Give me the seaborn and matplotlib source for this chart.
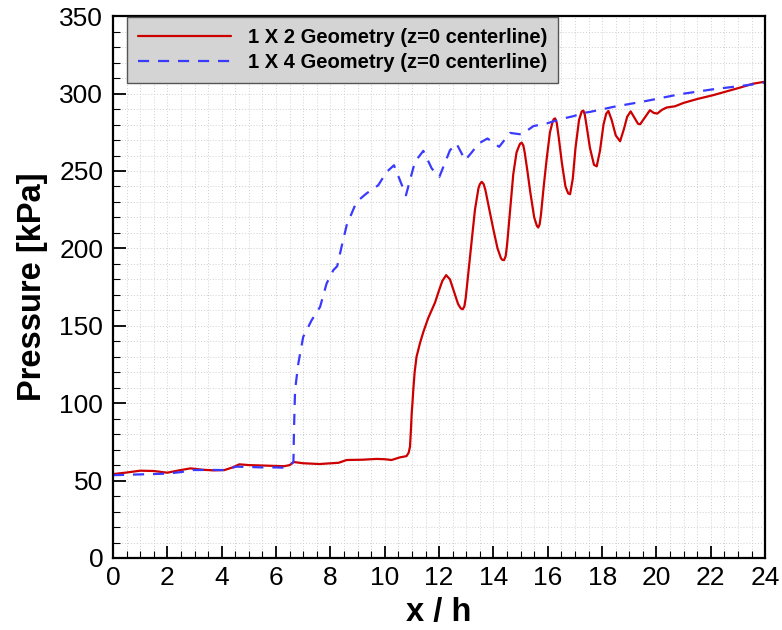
import matplotlib
matplotlib.use("Agg")
import matplotlib.pyplot as plt
import seaborn as sns
import pandas as pd
from matplotlib.ticker import MultipleLocator

# ---- data ----
red_x = [0.0, 0.5, 1.0, 1.5, 2.0, 2.4, 2.85, 3.3, 3.7, 4.1, 4.4, 4.65, 5.0, 5.4, 5.9,
         6.3, 6.5, 6.65, 7.0, 7.6, 8.3, 8.6, 9.2, 9.7, 10.0, 10.25, 10.56, 10.8, 10.88,
         10.93, 10.97, 10.99, 11.02, 11.05, 11.1, 11.17, 11.3, 11.42, 11.6, 11.85, 12.0,
         12.12, 12.26, 12.4, 12.55, 12.7, 12.8, 12.87, 12.93, 12.98, 13.08, 13.2, 13.32, 13.45,
         13.5, 13.57, 13.64, 13.7, 13.85, 14.0, 14.15, 14.28, 14.33, 14.39, 14.45, 14.5, 14.6,
         14.73, 14.85, 14.95, 14.98, 15.04, 15.1, 15.15, 15.25, 15.35, 15.5, 15.6, 15.65, 15.7,
         15.75, 15.85, 15.96, 16.08, 16.18, 16.22, 16.27, 16.33, 16.4, 16.52, 16.65, 16.75,
         16.82, 16.92, 17.02, 17.15, 17.25, 17.31, 17.36, 17.42, 17.55, 17.7, 17.8, 17.92,
         18.05, 18.15, 18.23, 18.35, 18.5, 18.66, 18.8, 18.92, 19.05, 19.2, 19.32, 19.4,
         19.55, 19.76, 19.9, 20.03, 20.2, 20.37, 20.68, 21.0, 21.5, 22.09, 22.5, 23.0, 23.56,
         23.93, 24.0]
red_y = [54.2, 55.2, 56.4, 56.2, 55.1, 56.5, 57.9, 57.0, 56.6, 56.8, 58.5, 60.5, 60.0, 59.8, 59.6,
         59.3, 60.0, 62.0, 61.2, 60.7, 61.5, 63.3, 63.5, 64.0, 63.8, 63.3, 65.0, 65.8, 68.0,
         72.0, 85.0, 93.0, 100.0, 108.5, 120.0, 130.0, 139.0, 146.0, 155.0, 165.0, 173.0,
         179.0, 182.7, 180.0, 172.0, 164.0, 161.2, 160.7, 162.5, 168.0, 185.0, 205.0, 225.0, 239.0,
         241.5, 243.0, 241.5, 238.0, 225.0, 212.0, 200.0, 193.5, 192.6, 192.4, 195.0, 202.0, 222.0,
         248.0, 262.0, 266.5, 267.6, 268.3, 266.5, 262.0, 250.0, 237.0, 220.0, 214.5, 213.5, 215.5,
         222.0, 240.0, 258.0, 275.0, 282.0, 283.5, 284.0, 281.0, 272.0, 255.0, 240.0, 235.5,
         235.0, 245.0, 265.0, 283.0, 288.5, 289.0, 286.5, 280.0, 265.0, 254.0, 253.0, 263.0,
         280.0, 287.0, 288.8, 283.0, 273.0, 269.2, 277.0, 285.0, 288.5, 284.0, 280.5, 280.2,
         284.0, 289.3, 287.5, 287.1, 289.5, 291.0, 291.8, 294.0, 296.5, 299.0, 301.0, 303.5, 306.4,
         307.5, 307.2]

blue_x = [0.0, 1.0, 2.0, 2.5, 2.95, 3.5, 4.06, 4.55, 5.0, 5.5, 6.0, 6.33, 6.57, 6.64, 6.66,
          6.70, 6.82, 7.0, 7.31, 7.62, 7.86, 8.11, 8.25, 8.41, 8.60, 8.96, 9.33, 9.76, 10.07,
          10.34, 10.56, 10.78, 11.11, 11.42, 11.73, 12.01, 12.40, 12.64, 12.96, 13.20, 13.45,
          13.78, 14.21, 14.61, 15.04, 15.47, 15.96, 16.45, 16.94, 17.31, 17.56, 18.41, 19.64,
          20.86, 22.09, 23.32, 23.93, 24.0]
blue_y = [53.5, 54.0, 54.5, 55.5, 56.8, 56.9, 56.8, 59.0, 58.8, 58.5, 58.5, 58.3, 61.0, 62.0, 82.6,
          108.5, 125.7, 142.9, 153.6, 162.2, 177.3, 186.0, 188.5, 201.0, 215.0, 230.0, 235.5, 240.8, 249.4,
          253.7, 244.0, 234.3, 255.9, 263.0, 251.6, 246.2, 263.4, 267.7, 257.0, 262.0, 267.7,
          271.0, 265.6, 274.6, 273.6, 279.0, 280.7, 283.4, 285.4, 287.5, 288.2, 291.4, 295.3,
          299.6, 302.8, 305.4, 307.0, 307.3]

label_red = "1 X 2 Geometry (z=0 centerline)"
label_blue = "1 X 4 Geometry (z=0 centerline)"
x_ticks = list(range(0, 25, 2))
y_ticks = list(range(0, 351, 50))

sns.set_theme(style="ticks")
plt.rcParams['font.family'] = ['Liberation Sans', 'DejaVu Sans']

fig = plt.figure(figsize=(7.82, 6.3), dpi=100)
ax = fig.add_axes([0.1445, 0.1143, 0.834, 0.860])

df_r = pd.DataFrame({"x": red_x, "y": red_y})
df_b = pd.DataFrame({"x": blue_x, "y": blue_y})
sns.lineplot(data=df_r, x="x", y="y", ax=ax, color="#cc0000", lw=1.6,
             estimator=None, sort=False, label=label_red)
sns.lineplot(data=df_b, x="x", y="y", ax=ax, color="#3a3aff", lw=1.6,
             estimator=None, sort=False, label=label_blue, dashes=False,
             linestyle=(0, (5, 4)))

ax.set_xlim(0, 24)
ax.set_ylim(0, 350)
ax.set_xticks(x_ticks)
ax.set_yticks(y_ticks)
ax.xaxis.set_minor_locator(MultipleLocator(0.5))
ax.yaxis.set_minor_locator(MultipleLocator(10))
ax.grid(True, which="both", color="#cfcfcf", linestyle=(0, (1, 2)), linewidth=0.7)
ax.set_axisbelow(True)

ax.tick_params(axis="both", which="major", direction="in", length=9, width=1.3,
               labelsize=19, color="black", labelcolor="black")
ax.tick_params(axis="x", which="major", pad=6)
ax.tick_params(axis="y", which="major", pad=7)
ax.tick_params(axis="both", which="minor", direction="in", length=5, width=0.8, color="black")
for s in ax.spines.values():
    s.set_linewidth(1.6)
    s.set_color("black")

ax.set_xlabel("x / h", fontsize=23.5, fontweight="bold", labelpad=5, color="black")
ax.set_ylabel("Pressure [kPa]", fontsize=23.5, fontweight="bold", labelpad=8, color="black")

leg = ax.legend(loc="upper left", bbox_to_anchor=(0.0215, 0.998), borderaxespad=0,
                frameon=True, fancybox=False, framealpha=1, facecolor="#d4d4d4",
                edgecolor="#555555", prop={"size": 14.5, "weight": "bold"},
                handlelength=4.6, handletextpad=0.85, labelspacing=0.3,
                borderpad=0.55, markerfirst=True)
leg.get_frame().set_linewidth(1.0)
for t in leg.get_texts():
    t.set_color("black")

fig.savefig("out.png", dpi=100, facecolor="white")
